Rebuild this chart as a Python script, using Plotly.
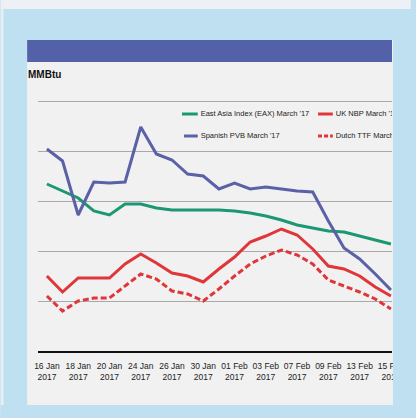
import plotly.graph_objects as go

# Trading days shown on the chart (all 2017)
days = ["16 Jan", "17 Jan", "18 Jan", "19 Jan", "20 Jan", "23 Jan", "24 Jan",
        "25 Jan", "26 Jan", "27 Jan", "30 Jan", "31 Jan", "01 Feb", "02 Feb",
        "03 Feb", "06 Feb", "07 Feb", "08 Feb", "09 Feb", "10 Feb", "13 Feb",
        "14 Feb", "15 Feb"]
year = "2017"

# Prices, $/MMBtu
east_asia = [9.34, 9.20, 9.06, 8.80, 8.72, 8.94, 8.94, 8.86, 8.82, 8.82, 8.82,
             8.82, 8.80, 8.76, 8.70, 8.62, 8.52, 8.46, 8.40, 8.38, 8.30, 8.22, 8.14]
spanish_pvb = [10.04, 9.80, 8.72, 9.38, 9.36, 9.38, 10.48, 9.94, 9.82, 9.54, 9.50,
               9.24, 9.36, 9.24, 9.28, 9.24, 9.20, 9.18, 8.60, 8.06, 7.84, 7.54, 7.22]
uk_nbp = [7.50, 7.18, 7.46, 7.46, 7.46, 7.74, 7.94, 7.76, 7.56, 7.50, 7.38,
          7.64, 7.88, 8.18, 8.30, 8.44, 8.32, 8.04, 7.70, 7.64, 7.50, 7.28, 7.10]
dutch_ttf = [7.10, 6.80, 7.00, 7.06, 7.06, 7.30, 7.54, 7.44, 7.20, 7.14, 7.00,
             7.24, 7.50, 7.74, 7.90, 8.02, 7.92, 7.74, 7.42, 7.30, 7.18, 7.04, 6.84]

series_names = ["East Asia Index (EAX) March '17", "UK NBP March '17",
                "Spanish PVB March '17", "Dutch TTF March '17"]
unit_label = "MMBtu"

tick_days = days[::2]
tick_text = [f"{d}<br>{year}" for d in tick_days]

# Styling
W, H = 416, 418
ML, MR, MT, MB = 38, 19, 95, 67
GREEN = "#1b9873"
BLUE = "#5b61a6"
RED = "#e0363a"
FRAME = "#bfe0f0"
PANEL = "#f1f1f1"
HEADER = "#5361a8"
FONT = "Liberation Sans, Arial, sans-serif"

PW = W - ML - MR
PH = H - MT - MB


def px(x):
    return (x - ML) / PW


def py(y):
    return (H - MB - y) / PH


fig = go.Figure()

line_w = 3
fig.add_trace(go.Scatter(x=days, y=east_asia, mode="lines",
                         line=dict(color=GREEN, width=line_w)))
fig.add_trace(go.Scatter(x=days, y=spanish_pvb, mode="lines",
                         line=dict(color=BLUE, width=line_w)))
fig.add_trace(go.Scatter(x=days, y=uk_nbp, mode="lines",
                         line=dict(color=RED, width=line_w)))
fig.add_trace(go.Scatter(x=days, y=dutch_ttf, mode="lines",
                         line=dict(color=RED, width=line_w, dash="6px,3px")))

# Legend entries: text on an overlay axis spanning the plot area,
# clipped at the plot edge like the rest of the chart
legend_rows = [(203, 114, series_names[0]), (340, 114, series_names[1]),
               (203, 136, series_names[2]), (340, 136, series_names[3])]
fig.add_trace(go.Scatter(
    x=[px(r[0]) for r in legend_rows], y=[py(r[1]) for r in legend_rows],
    text=[r[2] for r in legend_rows], mode="text", textposition="middle right",
    textfont=dict(family=FONT, size=7.5, color="#222"),
    xaxis="x2", yaxis="y2", cliponaxis=True, hoverinfo="skip"))

shapes = [
    # light strip at top of the page
    dict(type="rect", xref="paper", yref="paper", x0=px(0), x1=px(W), y0=py(9), y1=py(0),
         fillcolor="#edf1f6", line_width=0, layer="below"),
    # inner panel
    dict(type="rect", xref="paper", yref="paper", x0=px(27), x1=px(398), y0=py(405), y1=py(40),
         fillcolor=PANEL, line_width=0, layer="below"),
    # lighter outer edge on the left frame
    dict(type="rect", xref="paper", yref="paper", x0=px(0), x1=px(3), y0=py(H), y1=py(9),
         fillcolor="#e4eff6", line_width=0, layer="below"),
    # header bar
    dict(type="rect", xref="paper", yref="paper", x0=px(27), x1=px(397), y0=py(62), y1=py(40),
         fillcolor=HEADER, line_width=0, layer="below"),
    # legend swatches
    dict(type="line", xref="paper", yref="paper", x0=px(184), x1=px(200), y0=py(114), y1=py(114),
         line=dict(color=GREEN, width=3), layer="above"),
    dict(type="line", xref="paper", yref="paper", x0=px(322), x1=px(337), y0=py(114), y1=py(114),
         line=dict(color=RED, width=3), layer="above"),
    dict(type="line", xref="paper", yref="paper", x0=px(186), x1=px(200), y0=py(136), y1=py(136),
         line=dict(color=BLUE, width=3), layer="above"),
    dict(type="line", xref="paper", yref="paper", x0=px(322), x1=px(337), y0=py(136), y1=py(136),
         line=dict(color=RED, width=3, dash="4px,2px"), layer="above"),
    # right and bottom frame drawn over the chart edge
    dict(type="rect", xref="paper", yref="paper", x0=px(398), x1=px(W), y0=py(H), y1=py(9),
         fillcolor=FRAME, line_width=0, layer="above"),
    dict(type="rect", xref="paper", yref="paper", x0=px(0), x1=px(W), y0=py(H), y1=py(405),
         fillcolor=FRAME, line_width=0, layer="above"),
]

fig.update_layout(
    width=W, height=H,
    margin=dict(l=ML, r=MR, t=MT, b=MB),
    paper_bgcolor=FRAME,
    plot_bgcolor="rgba(0,0,0,0)",
    showlegend=False,
    shapes=shapes,
    annotations=[dict(text=f"<b>{unit_label}</b>", xref="paper", yref="paper",
                      x=px(26), y=py(74), xanchor="left", yanchor="middle",
                      showarrow=False,
                      font=dict(family=FONT, size=10, color="#111"))],
    xaxis=dict(type="category", range=[-0.57, 22.07], tickvals=tick_days,
               ticktext=tick_text, showgrid=False, zeroline=False,
               showline=True, linecolor="#111", linewidth=2, ticks="",
               tickangle=0, ticklabelstandoff=6,
               tickfont=dict(family=FONT, size=8.5, color="#222")),
    yaxis=dict(range=[6, 6 + PH / 50], dtick=1, tick0=6, showgrid=True,
               gridcolor="#a9a9a9", gridwidth=1, zeroline=False,
               showticklabels=False, ticks=""),
    xaxis2=dict(overlaying="x", range=[0, 1], visible=False),
    yaxis2=dict(overlaying="y", range=[0, 1], visible=False),
)

fig.write_html("out.html")
